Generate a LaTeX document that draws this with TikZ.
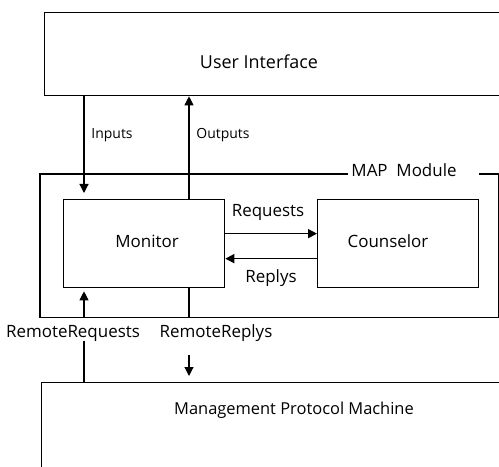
\documentclass[tikz,border=0pt]{standalone}
\usepackage{fontspec}
\setmainfont{Open Sans}
\usetikzlibrary{arrows.meta,calc}
\tikzset{
  box/.style={draw, line width=1.3bp, inner sep=0pt},
  lbl/.style={inner sep=0pt, font=\fontsize{17}{19}\selectfont},
  slbl/.style={inner sep=0pt, font=\fontsize{14}{16}\selectfont},
  conn/.style={line width=1.1bp},
  arr/.style={conn, -{Triangle[length=9bp,width=9bp]}},
  harr/.style={line width=1.6bp, -{Triangle[length=9bp,width=9bp]}}
}
\begin{document}
\begin{tikzpicture}[x=1bp,y=-1bp]
\useasboundingbox (0,0) rectangle (499,467);
\clip (0,0) rectangle (499,467);
% boxes
\node[box, minimum width=470bp, minimum height=83bp, anchor=north west] (UI) at (44,12) {};
\node[lbl, font=\fontsize{18}{20}\selectfont] (UIt) at (259,62) {User Interface};
\node[inner sep=0pt, minimum width=458bp, minimum height=143bp, anchor=north west] (MAP) at (40,174) {};
\node[lbl] (MAPt) at (404,170) {MAP\ \ Module};
\draw[line width=1.3bp] ([xshift=-3bp]MAPt.west |- MAP.north) -- (MAP.north west) -- (MAP.south west) -- (MAP.south east) -- (MAP.north east) -- ([xshift=22bp]MAPt.east |- MAP.north);
\node[box, minimum width=161bp, minimum height=88bp, anchor=north west] (Mon) at (63,199) {};
\node[lbl] at (147,241) {Monitor};
\node[box, minimum width=161bp, minimum height=88bp, anchor=north west] (Cou) at (317,199) {};
\node[lbl] at (388,241) {Counselor};
\node[box, minimum width=470bp, minimum height=120bp, anchor=north west] (MPM) at (41,382) {};
\node[lbl, font=\fontsize{16.5}{18}\selectfont] (MPMt) at (294,410) {Management Protocol Machine};
% x positions
\coordinate (xa) at (84,0);
\coordinate (xb) at (189,0);
% Inputs / Outputs
\draw[arr] (UI.south -| xa) -- ([yshift=6bp]Mon.north -| xa);
\node[slbl] at (112,135) {Inputs};
\draw[arr] (Mon.north -| xb) -- (UI.south -| xb);
\node[slbl] at (223,135) {Outputs};
% Requests / Replys
\draw[harr] ([yshift=10bp]Mon.east) -- ([yshift=10bp]Cou.west);
\node[lbl] at (268,212) {Requests};
\draw[harr] ([yshift=-15bp]Cou.west) -- ([yshift=-15bp]Mon.east);
\node[lbl] at (271,278) {Replys};
% Remote
\node[lbl] (RRq) at (73,333) {RemoteRequests};
\node[lbl] (RRp) at (216,333) {RemoteReplys};
\draw[arr] (MAP.south -| xa) -- ([yshift=-3bp]Mon.south -| xa);
\draw[conn] (MPM.north -| xa) -- ([yshift=-24bp]MAP.south -| xa);
\draw[conn] (Mon.south -| xb) -- (MAP.south -| xb);
\draw[arr] ([yshift=-38bp]MAP.south -| xb) -- ([yshift=6bp]MPM.north -| xb);
\end{tikzpicture}
\end{document}
